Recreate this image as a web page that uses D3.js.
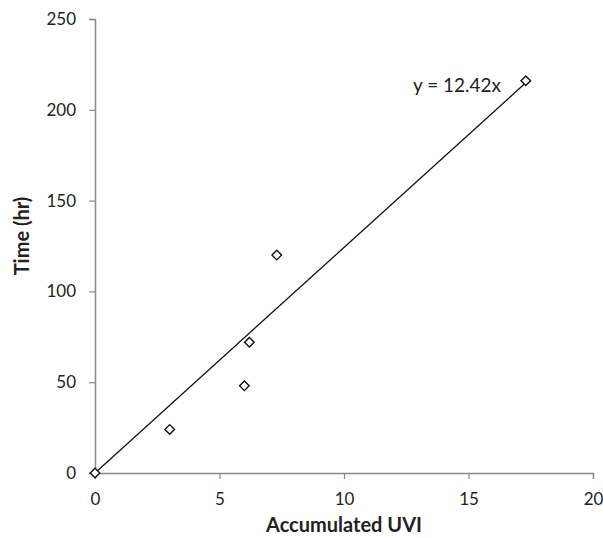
<!DOCTYPE html>
<html>
<head>
<meta charset="utf-8">
<script src="https://cdn.jsdelivr.net/npm/d3@7"></script>
<style>
  body { margin: 0; background: #fff; }
  svg text { font-family: Lato, "Open Sans", sans-serif; fill: #222; }
</style>
</head>
<body>
<div id="chart"></div>
<script>
// data
var uvi = [0, 3, 6, 6.2, 7.3, 17.3];
var hours = [0, 24, 48, 72, 120, 216];
var slope = 12.42;
var xTicks = [0, 5, 10, 15, 20];
var yTicks = [0, 50, 100, 150, 200, 250];

var width = 603, height = 538;
var margin = { left: 95, right: 10, top: 19, bottom: 65 };

var svg = d3.select('#chart').append('svg')
    .attr('width', width)
    .attr('height', height);

var x = d3.scaleLinear().domain([0, 20]).range([margin.left, width - margin.right]);
var y = d3.scaleLinear().domain([0, 250]).range([height - margin.bottom, margin.top]);

var axisColor = '#898989';

// x axis
var gx = svg.append('g')
    .attr('transform', 'translate(0,' + y(0) + ')')
    .call(d3.axisBottom(x).tickValues(xTicks).tickSize(6).tickPadding(14));
gx.select('.domain').attr('stroke', axisColor).attr('stroke-width', 1.5);
gx.selectAll('.tick line').attr('stroke', axisColor).attr('stroke-width', 1.2);
gx.selectAll('.tick text').style('font-size', '17px').attr('fill', '#222');

// y axis
var gy = svg.append('g')
    .attr('transform', 'translate(' + x(0) + ',0)')
    .call(d3.axisLeft(y).tickValues(yTicks).tickSize(6).tickPadding(13));
gy.select('.domain').attr('stroke', axisColor).attr('stroke-width', 1.5);
gy.selectAll('.tick line').attr('stroke', axisColor).attr('stroke-width', 1.2);
gy.selectAll('.tick text').style('font-size', '17px').attr('fill', '#222');

// trend line through the origin
var xMax = d3.max(uvi);
svg.append('line')
    .attr('x1', x(0)).attr('y1', y(0))
    .attr('x2', x(xMax)).attr('y2', y(slope * xMax))
    .attr('stroke', '#111')
    .attr('stroke-width', 1.3);

// markers
var points = uvi.map(function(d, i) { return { x: d, y: hours[i] }; });
svg.selectAll('path.pt')
    .data(points)
    .enter().append('path')
    .attr('class', 'pt')
    .attr('d', d3.symbol().type(d3.symbolSquare).size(46))
    .attr('transform', function(d) {
        return 'translate(' + x(d.x) + ',' + y(d.y) + ') rotate(45)';
    })
    .attr('fill', '#fff')
    .attr('stroke', '#111')
    .attr('stroke-width', 1.4);

// equation label
svg.append('text')
    .attr('x', 457)
    .attr('y', 92)
    .attr('text-anchor', 'middle')
    .style('font-size', '19px')
    .text('y = ' + slope + 'x');

// axis titles
svg.append('text')
    .attr('x', (x(0) + x(20)) / 2)
    .attr('y', 532)
    .attr('text-anchor', 'middle')
    .style('font-size', '20px')
    .style('font-weight', 'bold')
    .text('Accumulated UVI');

svg.append('text')
    .attr('transform', 'translate(29,236) rotate(-90)')
    .attr('text-anchor', 'middle')
    .style('font-size', '20px')
    .style('font-weight', 'bold')
    .text('Time (hr)');
</script>
</body>
</html>
